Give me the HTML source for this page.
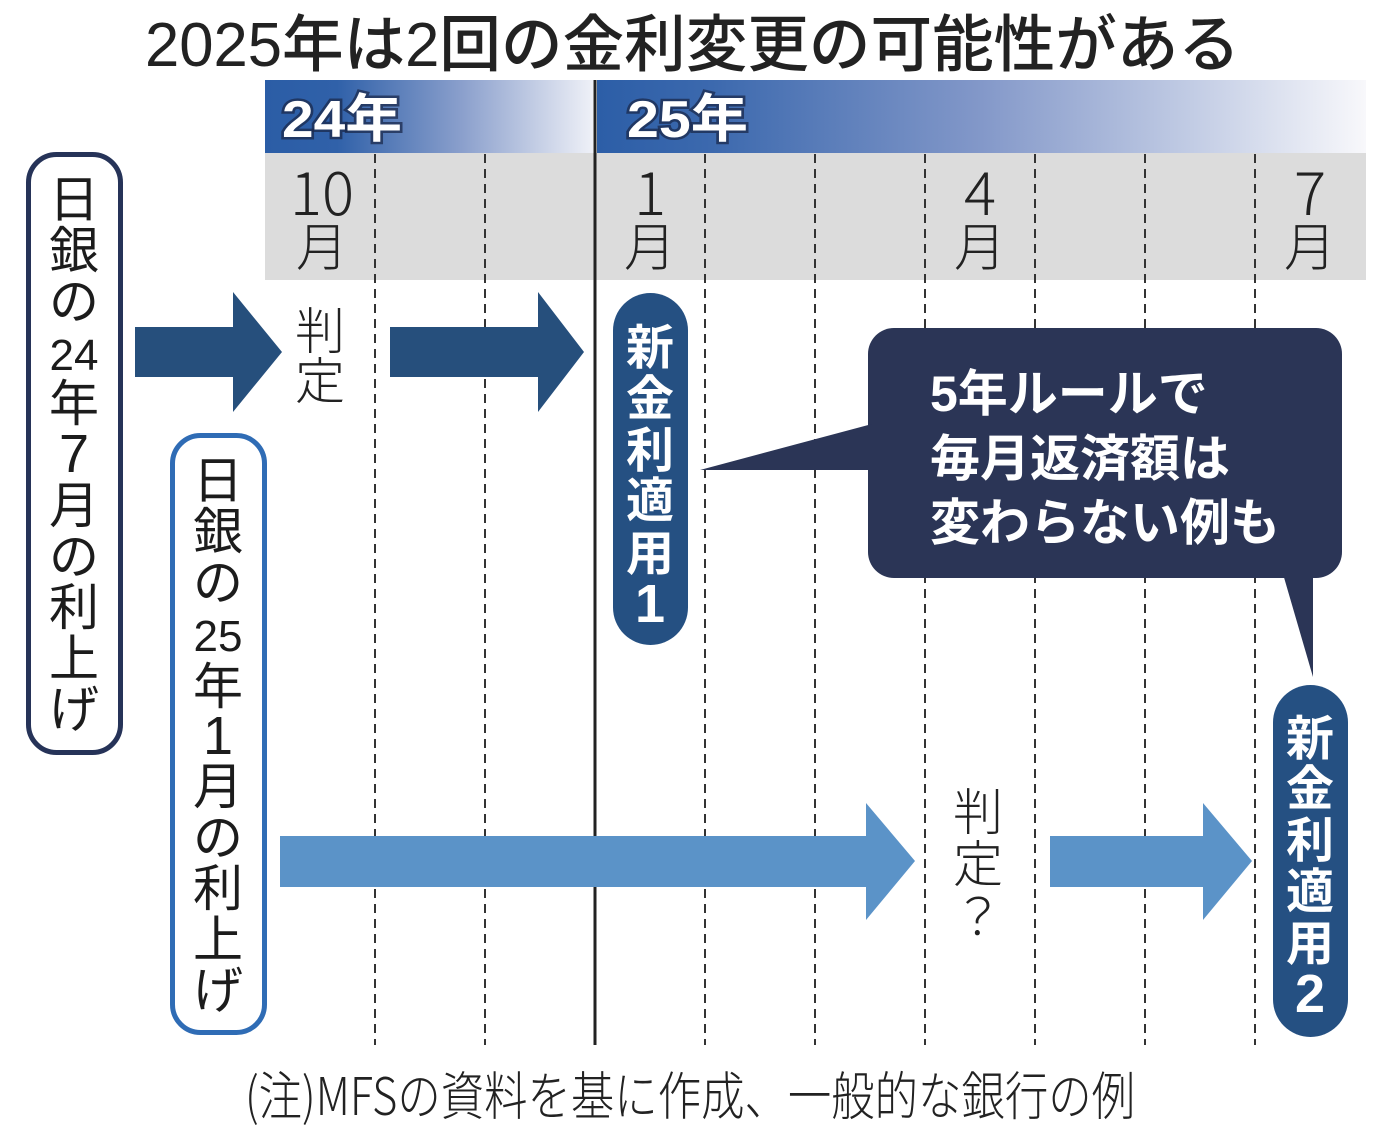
<!DOCTYPE html>
<html><head><meta charset="utf-8"><style>
html,body{margin:0;padding:0;background:#fff;}
svg{display:block;}
text{font-family:"Liberation Sans","Noto Sans CJK JP",sans-serif;}
.cj{font-family:"Noto Sans CJK JP","Liberation Sans",sans-serif;}
</style></head><body>
<svg width="1388" height="1132" viewBox="0 0 1388 1132" xmlns="http://www.w3.org/2000/svg">
<defs>
<linearGradient id="g24" x1="265" y1="0" x2="592" y2="0" gradientUnits="userSpaceOnUse">
<stop offset="0" stop-color="#2b5da6"/><stop offset="0.22" stop-color="#3061a9"/><stop offset="0.6" stop-color="#8a9fcc"/><stop offset="1" stop-color="#eef0f7"/>
</linearGradient>
<linearGradient id="g25" x1="597" y1="0" x2="1366" y2="0" gradientUnits="userSpaceOnUse">
<stop offset="0" stop-color="#2c5ea7"/><stop offset="0.15" stop-color="#3c69ae"/><stop offset="0.5" stop-color="#8398c9"/><stop offset="0.8" stop-color="#c8d1e7"/><stop offset="1" stop-color="#f8f8fb"/>
</linearGradient>
</defs>
<rect width="1388" height="1132" fill="#fff"/>

<!-- title -->
<text x="145" y="66" font-size="62" font-weight="500" fill="#222" textLength="1095" lengthAdjust="spacingAndGlyphs">2025年は2回の金利変更の可能性がある</text>

<!-- header bands -->
<rect x="265" y="80" width="328" height="73" fill="url(#g24)"/>
<rect x="597" y="80" width="769" height="73" fill="url(#g25)"/>
<text x="282" y="137" font-size="52" font-weight="700" fill="#fff" stroke="#1b2a4c" stroke-width="5" stroke-opacity="0.75" paint-order="stroke" textLength="120" lengthAdjust="spacingAndGlyphs">24年</text>
<text x="627" y="137" font-size="52" font-weight="700" fill="#fff" stroke="#1b2a4c" stroke-width="5" stroke-opacity="0.75" paint-order="stroke" textLength="121" lengthAdjust="spacingAndGlyphs">25年</text>

<!-- gray band -->
<rect x="265" y="153" width="1101" height="127" fill="#dcdcdc"/>

<!-- dashed lines -->
<g stroke="#333" stroke-width="2" stroke-dasharray="9 6">
<line x1="375" y1="154" x2="375" y2="1045"/>
<line x1="485" y1="154" x2="485" y2="1045"/>
<line x1="705" y1="154" x2="705" y2="1045"/>
<line x1="815" y1="154" x2="815" y2="1045"/>
<line x1="925" y1="154" x2="925" y2="1045"/>
<line x1="1035" y1="154" x2="1035" y2="1045"/>
<line x1="1145" y1="154" x2="1145" y2="1045"/>
<line x1="1255" y1="154" x2="1255" y2="1045"/>
</g>
<line x1="595" y1="80" x2="595" y2="1045" stroke="#222" stroke-width="3"/>

<!-- months -->
<g fill="#222" text-anchor="middle">
<text class="cj" x="322" y="215" font-size="60" font-weight="300">10</text>
<text class="cj" x="322" y="266" font-size="52" font-weight="300">月</text>
<text class="cj" x="650" y="215" font-size="60" font-weight="300">1</text>
<text class="cj" x="650" y="266" font-size="52" font-weight="300">月</text>
<text class="cj" x="980" y="215" font-size="60" font-weight="300">4</text>
<text class="cj" x="980" y="266" font-size="52" font-weight="300">月</text>
<text class="cj" x="1310" y="215" font-size="60" font-weight="300">7</text>
<text class="cj" x="1310" y="266" font-size="52" font-weight="300">月</text>
</g>

<!-- left boxes -->
<rect x="28.5" y="154.5" width="92" height="598" rx="28" fill="#fff" stroke="#263358" stroke-width="5"/>
<g fill="#1c1c1c" text-anchor="middle" font-size="50">
<text x="74" y="217">日</text>
<text x="74" y="268">銀</text>
<text x="74" y="319">の</text>
<text x="74" y="370" font-size="44">24</text>
<text x="74" y="421">年</text>
<text x="74" y="472" font-size="54">7</text>
<text x="74" y="523">月</text>
<text x="74" y="574">の</text>
<text x="74" y="625">利</text>
<text x="74" y="676">上</text>
<text x="74" y="727">げ</text>
</g>
<rect x="172.5" y="435.5" width="92" height="597" rx="28" fill="#fff" stroke="#2f6cb5" stroke-width="5"/>
<g fill="#1c1c1c" text-anchor="middle" font-size="50">
<text x="218" y="498">日</text>
<text x="218" y="549">銀</text>
<text x="218" y="600">の</text>
<text x="218" y="651" font-size="44">25</text>
<text x="218" y="704">年</text>
<text x="218" y="754" font-size="54">1</text>
<text x="218" y="804">月</text>
<text x="218" y="855">の</text>
<text x="218" y="906">利</text>
<text x="218" y="957">上</text>
<text x="218" y="1008">げ</text>
</g>

<!-- arrows -->
<g fill="#264f7c">
<polygon points="135,327 233,327 233,292 282,352 233,412 233,377 135,377"/>
<polygon points="390,327 538,327 538,292 584,352 538,412 538,377 390,377"/>
</g>
<g fill="#5b93c8">
<polygon points="280,836 866,836 866,803 915,861 866,920 866,887 280,887"/>
<polygon points="1050,836 1203,836 1203,803 1252,861 1203,920 1203,887 1050,887"/>
</g>

<!-- 判定 labels -->
<g fill="#222" text-anchor="middle" font-size="50" font-weight="300">
<text class="cj" x="320" y="349">判</text>
<text class="cj" x="320" y="399">定</text>
<text class="cj" x="978" y="830">判</text>
<text class="cj" x="978" y="882">定</text>
<text class="cj" x="978" y="935">？</text>
</g>

<!-- pills -->
<rect x="613" y="293" width="75" height="352" rx="37.5" fill="#255082"/>
<g fill="#fff" text-anchor="middle" font-size="48" font-weight="700">
<text x="650" y="364">新</text>
<text x="650" y="415">金</text>
<text x="650" y="467">利</text>
<text x="650" y="517">適</text>
<text x="650" y="570">用</text>
<text x="650" y="622" font-size="54">1</text>
</g>
<rect x="1273" y="685" width="75" height="352" rx="37.5" fill="#255082"/>
<g fill="#fff" text-anchor="middle" font-size="48" font-weight="700">
<text x="1310" y="755">新</text>
<text x="1310" y="805">金</text>
<text x="1310" y="857">利</text>
<text x="1310" y="908">適</text>
<text x="1310" y="960">用</text>
<text x="1310" y="1012" font-size="54">2</text>
</g>

<!-- callout -->
<g fill="#2b3556">
<rect x="868" y="328" width="474" height="250" rx="26"/>
<polygon points="700,470 872,424 872,470"/>
<polygon points="1283,574 1313,574 1313,677"/>
</g>
<g fill="#fff" font-size="50" font-weight="700">
<text x="930" y="411">5年ルールで</text>
<text x="930" y="476">毎月返済額は</text>
<text x="930" y="540">変わらない例も</text>
</g>

<!-- note -->
<text class="cj" x="245" y="1115" font-size="52" font-weight="300" fill="#222" textLength="890" lengthAdjust="spacingAndGlyphs">(注)MFSの資料を基に作成、一般的な銀行の例</text>
</svg>
</body></html>
